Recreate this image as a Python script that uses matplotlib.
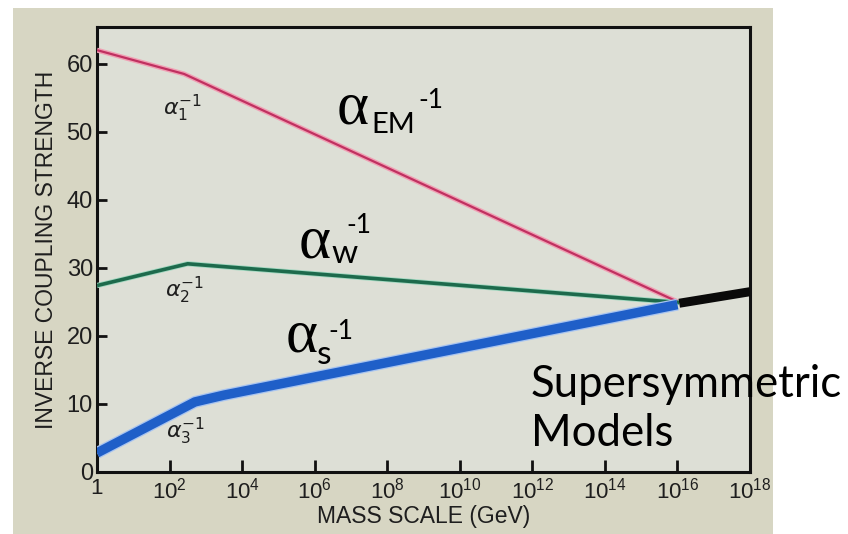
import matplotlib
matplotlib.use('Agg')
import matplotlib.pyplot as plt
from matplotlib.patches import Rectangle

# data (x in GeV, y = inverse coupling)
em_x = [1, 10**2.4, 10**16.05]
em_y = [62.0, 58.5, 24.9]
weak_x = [1, 10**2.5, 10**16.05]
weak_y = [27.4, 30.6, 24.9]
strong_x = [1, 10**2.7, 10**3.5, 10**16.0]
strong_y = [2.8, 10.3, 11.3, 24.6]
susy_x = [10**16.05, 10**18]
susy_y = [24.8, 26.5]

xticks = [10**k for k in range(0, 19, 2)]
xticklabels = ['1'] + [r'$\mathdefault{10^{%d}}$' % k for k in range(2, 19, 2)]
yticks = [0, 10, 20, 30, 40, 50, 60]

W, H = 848, 534
fig = plt.figure(figsize=(W / 100, H / 100), dpi=100)
fig.patch.set_facecolor('white')

def px(x, y):
    return x / W, 1 - y / H

# the photographed page
fig.patches.append(Rectangle((13 / W, 0), 760 / W, 526 / H, transform=fig.transFigure,
                             facecolor=(0.845, 0.840, 0.765), edgecolor='none', zorder=-5))

L, R, T, B = 97, 750, 27, 472
ax = fig.add_axes([L / W, 1 - B / H, (R - L) / W, (B - T) / H])
ax.set_zorder(1)
ax.set_facecolor((0.868, 0.875, 0.840))
ax.set_xscale('log')
ax.set_xlim(1, 1e18)
ax.set_ylim(0, 65.4)

ink = '#1e1e1e'
for s in ax.spines.values():
    s.set_linewidth(2.2)
    s.set_color('#111111')

ax.plot(em_x, em_y, color='#f0a0b4', lw=3.6, solid_capstyle='butt', zorder=3)
ax.plot(em_x, em_y, color='#c03060', lw=1.6, solid_capstyle='butt', zorder=4)
ax.plot(weak_x, weak_y, color='#a0d8c0', lw=3.8, solid_capstyle='butt', zorder=3)
ax.plot(weak_x, weak_y, color='#1d6a4c', lw=2.6, solid_capstyle='butt', zorder=4)
ax.plot(strong_x, strong_y, color='#a8c4f0', lw=8.6, solid_capstyle='butt', zorder=5)
ax.plot(strong_x, strong_y, color='#1f5fc8', lw=6.8, solid_capstyle='butt', zorder=6)
ax.plot(susy_x, susy_y, color='#0a0a0a', lw=6.5, solid_capstyle='butt', zorder=6)

ax.set_xticks(xticks)
ax.set_xticklabels(xticklabels)
ax.xaxis.set_minor_locator(matplotlib.ticker.NullLocator())
ax.set_yticks(yticks)
ax.tick_params(axis='x', direction='in', length=9, width=2, color='#111111',
               labelsize=16, labelcolor=ink, pad=4)
ax.tick_params(axis='y', direction='in', length=7, width=2, color='#111111',
               labelsize=17, labelcolor=ink, pad=3)
for lab in ax.get_xticklabels() + ax.get_yticklabels():
    lab.set_family('Liberation Sans')

ax.set_xlabel('MASS SCALE (GeV)', fontsize=16.5, family='Liberation Sans', color=ink, labelpad=1)
ax.set_ylabel('INVERSE COUPLING STRENGTH', fontsize=16.5, family='Liberation Sans',
              color=ink, labelpad=6)

# small labels printed on the original figure
ax.text(10**2.35, 53.5, r'$\alpha_1^{-1}$', fontsize=16, color=ink, ha='center', va='center')
ax.text(10**2.4, 26.7, r'$\alpha_2^{-1}$', fontsize=16, color=ink, ha='center', va='center')
ax.text(10**2.45, 5.9, r'$\alpha_3^{-1}$', fontsize=16, color=ink, ha='center', va='center')

# overlaid slide text
serif = 'Liberation Serif'
sans = 'Lato'
def big_alpha(x, y, sub, sub_dx, sub_dy, sup_dx, sup_dy, sub_size):
    fig.text(*px(x, y), 'α', fontsize=44, family=serif, color='black', va='baseline', zorder=5)
    fig.text(*px(x + sub_dx, y + sub_dy), sub, fontsize=sub_size, family=sans,
             color='black', va='baseline', zorder=5)
    fig.text(*px(x + sup_dx, y + sup_dy), '-1', fontsize=19, family=sans,
             color='black', va='baseline', zorder=5)

big_alpha(337, 123, 'EM', 34, 10, 81, -15, 21)
big_alpha(299, 257, 'w', 32, 6, 47, -24, 24)
big_alpha(286, 352, 's', 31, 12, 42, -13, 24)

fig.text(*px(531, 397), 'Supersymmetric', fontsize=31.5, family=sans, color='black',
         va='baseline', zorder=5)
fig.text(*px(531, 446), 'Models', fontsize=31.5, family=sans, color='black', va='baseline', zorder=5)

fig.savefig('out.png', dpi=100, facecolor=fig.get_facecolor())
